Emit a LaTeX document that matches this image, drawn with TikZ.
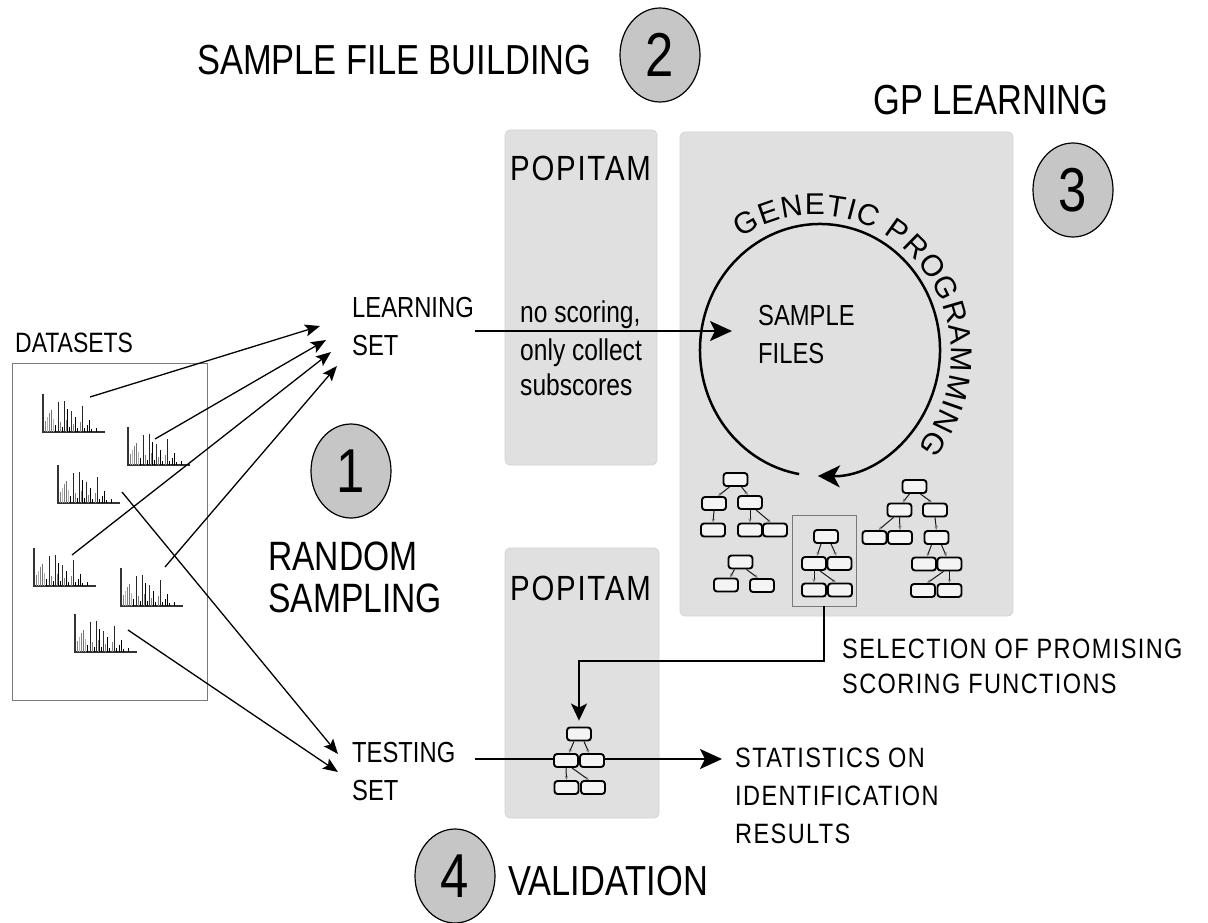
\documentclass[tikz,border=0pt]{standalone}
\usepackage{fontspec}
\setmainfont{Liberation Sans}
\newfontfamily\condsf{Liberation Sans}[FakeStretch=0.82]
\newfontfamily\trackedsf{Liberation Sans}[FakeStretch=0.84,LetterSpace=5]
\newfontfamily\plainsf{Liberation Sans}
\usetikzlibrary{arrows.meta,decorations.text,shapes.geometric}
\newcommand\setfs[1]{\fontsize{#1}{#1}\selectfont}

\definecolor{panelgray}{HTML}{E0E0E0}
\definecolor{panelline}{HTML}{D4D4D4}
\definecolor{badgegray}{HTML}{C6C6C6}
\definecolor{nodefill}{HTML}{F4F4F4}
\definecolor{framegray}{HTML}{7A7A7A}

% tree edge from parent to child, with horizontal offsets at both ends
\newcommand\tlink[4]{\draw[tedge] ([xshift=#3]#1.south) -- ([xshift=#4]#2.north);}

\begin{document}
\begin{tikzpicture}[x=1pt,y=-1pt,
  panel/.style={fill=panelgray,draw=panelline,line width=0.8,rounded corners=5,inner sep=0},
  badge/.style={ellipse,draw=black,fill=badgegray,line width=1.2,minimum width=80,
                minimum height=94,inner sep=0,font=\condsf\setfs{62}},
  headline/.style={font=\condsf\setfs{42},inner sep=0,anchor=base west},
  label/.style={font=\condsf\setfs{29},inner sep=0,anchor=base west},
  tracked/.style={font=\trackedsf\setfs{28},inner sep=0,anchor=base west},
  tnode/.style={draw=black,fill=nodefill,line width=1.9,rounded corners=3,
                minimum width=24,minimum height=13,inner sep=0},
  tedge/.style={line width=1,draw=black!90,
                -{Stealth[length=4,width=3.5,color=gray,fill=gray!40]}},
  bigarrow/.style={line width=2,-{Stealth[length=22,width=20,inset=5]}},
  medarrow/.style={line width=1.6,-{Stealth[length=17,width=16,inset=4]}},
  smallarrow/.style={line width=1.3,-{Stealth[length=15,width=12,inset=3]}},
  cyclearrow/.style={line width=2.5,-{Stealth[length=22,width=22,inset=6]}},
  spectrum/.pic={
    \draw[line width=1.1,black!80] (0,-38) -- (0,0) -- (62,0);
    \foreach \bx/\bh/\bc in {2/11/gray,4/15/black!30,6/19/gray,8/22/black!55,
        10/13/black!30,12/7/black,15/30/black!85,17/10/gray,19/5/black,
        21/31/black!85,23/12/gray,24/23/black,26/5/black,28/21/black!80,
        30/8/gray,32/15/black,34/4/black,37/10/gray,39/26/black!85,
        41/4/black,44/7/black,46/12/black,48/3/black,53/4/black}
      \draw[line width=0.9,\bc] (\bx,0) -- (\bx,-\bh);
  }]
\useasboundingbox (0,0) rectangle (1208,923);
\fill[white] (0,0) rectangle (1208,923);

% ---------- panels ----------
\node[panel,minimum width=152,minimum height=335] (pop1) at (581,297.5) {};
\node[panel,minimum width=154,minimum height=270] (pop2) at (582,683) {};
\node[panel,minimum width=333,minimum height=484] (gpbox) at (846.5,374) {};

% ---------- headings and badges ----------
\node[headline] (ttl2) at (197,75) {SAMPLE FILE BUILDING};
\node[badge] (b2) at (660,55) {2};
\node[headline] (ttl3) at (873,115) {GP LEARNING};
\node[badge] (b3) at (1073,190) {3};
\node[badge] (b1) at (351,471) {1};
\node[headline,font=\condsf\setfs{41}] (rnd1) at (268,570) {RANDOM};
\node[headline,font=\condsf\setfs{41}] (rnd2) at (268,612) {SAMPLING};
\node[badge] (b4) at (455,876) {4};
\node[headline] (ttl4) at (508,895) {VALIDATION};

% ---------- datasets ----------
\node[label,font=\condsf\setfs{28}] (dstitle) at (15,352) {DATASETS};
\node[draw=framegray,line width=1,minimum width=195,minimum height=337,inner sep=0]
  (dsbox) at (109.5,531.5) {};
\pic (sp1) at (43,432) {spectrum};
\pic (sp2) at (128,465) {spectrum};
\pic (sp3) at (58,503) {spectrum};
\pic (sp4) at (34,586) {spectrum};
\pic (sp5) at (121,606) {spectrum};
\pic (sp6) at (75,652) {spectrum};

\coordinate (s1out) at (90,397);
\coordinate (s2out) at (155,439);
\coordinate (s3out) at (122,492);
\coordinate (s4out) at (72,555);
\coordinate (s5out) at (165,567);
\coordinate (s6out) at (128,630);
\coordinate (lt1) at (320,326);
\coordinate (lt2) at (326,340);
\coordinate (lt3) at (331,352);
\coordinate (lt4) at (337,366);
\coordinate (tt1) at (338,754);
\coordinate (tt2) at (338,772);

\draw[smallarrow] (s1out) -- (lt1);
\draw[smallarrow] (s2out) -- (lt2);
\draw[smallarrow] (s4out) -- (lt3);
\draw[smallarrow] (s5out) -- (lt4);
\draw[smallarrow] (s3out) -- (tt1);
\draw[smallarrow] (s6out) -- (tt2);

% ---------- learning and testing sets ----------
\node[label] (lrn1) at (352,317) {LEARNING};
\node[label] (lrn2) at (352,355) {SET};
\node[label] (tst1) at (352,762) {TESTING};
\node[label] (tst2) at (352,800) {SET};

\node[tracked,font=\trackedsf\setfs{35}] (pop1t) at (510,180) {POPITAM};
\node[tracked,font=\trackedsf\setfs{35}] (pop2t) at (510,600) {POPITAM};
\node[label,font=\condsf\setfs{30}] (ns1) at (520,322) {no scoring,};
\node[label,font=\condsf\setfs{30}] (ns2) at (520,360) {only collect};
\node[label,font=\condsf\setfs{30}] (ns3) at (520,395) {subscores};

% ---------- genetic programming cycle ----------
\node[label] (sf1) at (758,325) {SAMPLE};
\node[label] (sf2) at (758,363) {FILES};
\draw[cyclearrow] (820,350) ++ (-260:120 and 126)
  arc[start angle=-260,end angle=91,x radius=120,y radius=126];
\path[decorate,decoration={text along path,
      text={|\plainsf\setfs{30}|GENETIC PROGRAMMING},text align=fit to path}]
  (815,355) ++ (-123:136 and 140)
  arc[start angle=-123,end angle=41,x radius=136,y radius=140];

\coordinate (learnout) at (475,331);
\coordinate (sfin) at (732,331);
\draw[bigarrow] (learnout) -- (sfin);

% ---------- evolved scoring trees ----------
\node[tnode] (A0) at (735.5,479.5) {};
\node[tnode] (A1) at (714,503.5) {};
\node[tnode] (A2) at (750,502.5) {};
\node[tnode] (A3) at (713,530) {};
\node[tnode] (A4) at (750,530) {};
\node[tnode] (A5) at (775,530) {};
\tlink{A0}{A1}{-6}{4}
\tlink{A0}{A2}{6}{-2}
\tlink{A1}{A3}{0}{0}
\tlink{A2}{A4}{0}{0}
\tlink{A2}{A5}{6}{-4}

\node[tnode] (B0) at (740.5,562) {};
\node[tnode] (B1) at (726,585) {};
\node[tnode] (B2) at (762,585.5) {};
\tlink{B0}{B1}{-6}{4}
\tlink{B0}{B2}{6}{-4}

\node[draw=framegray,line width=0.9,minimum width=64,minimum height=91,inner sep=0]
  (selbox) at (824,560.5) {};
\node[tnode] (C0) at (826,536.5) {};
\node[tnode] (C1) at (814,563.5) {};
\node[tnode] (C2) at (839.5,563.5) {};
\node[tnode] (C3) at (814,590) {};
\node[tnode] (C4) at (840,590) {};
\tlink{C0}{C1}{-5}{3}
\tlink{C0}{C2}{5}{-3}
\tlink{C1}{C3}{0}{0}
\tlink{C1}{C4}{6}{-4}

\node[tnode] (D0) at (914.5,486.5) {};
\node[tnode] (D1) at (899.5,510) {};
\node[tnode] (D2) at (935,510) {};
\node[tnode] (D3) at (874.5,537.5) {};
\node[tnode] (D4) at (900,537.5) {};
\node[tnode] (D5) at (936.5,537.5) {};
\node[tnode] (D6) at (924,564) {};
\node[tnode] (D7) at (949.5,564) {};
\node[tnode] (D8) at (923,590.5) {};
\node[tnode] (D9) at (949.5,590.5) {};
\tlink{D0}{D1}{-5}{3}
\tlink{D0}{D2}{6}{-3}
\tlink{D1}{D3}{-6}{4}
\tlink{D1}{D4}{0}{0}
\tlink{D2}{D5}{0}{0}
\tlink{D5}{D6}{-5}{3}
\tlink{D5}{D7}{5}{-3}
\tlink{D7}{D8}{-6}{4}
\tlink{D7}{D9}{0}{0}

% ---------- selection and validation ----------
\node[tracked] (sel1) at (842,658) {SELECTION OF PROMISING};
\node[tracked] (sel2) at (842,693) {SCORING FUNCTIONS};

\coordinate (testout) at (475,759);
\coordinate (statin) at (722,759);
\draw[bigarrow] (testout) -- (statin);

\node[tnode] (E0) at (579,734) {};
\node[tnode] (E1) at (566,760.5) {};
\node[tnode] (E2) at (592,760.5) {};
\node[tnode] (E3) at (566.5,787.5) {};
\node[tnode] (E4) at (593,787.5) {};
\tlink{E0}{E1}{-5}{3}
\tlink{E0}{E2}{5}{-3}
\tlink{E1}{E3}{0}{0}
\tlink{E1}{E4}{6}{-4}

\coordinate (selturn) at (579,661);
\draw[medarrow,shorten >=6pt] (selbox.south) |- (selturn) -- (E0.north);

\node[tracked] (st1) at (735,767) {STATISTICS ON};
\node[tracked] (st2) at (735,805) {IDENTIFICATION};
\node[tracked] (st3) at (735,843) {RESULTS};
\end{tikzpicture}
\end{document}
